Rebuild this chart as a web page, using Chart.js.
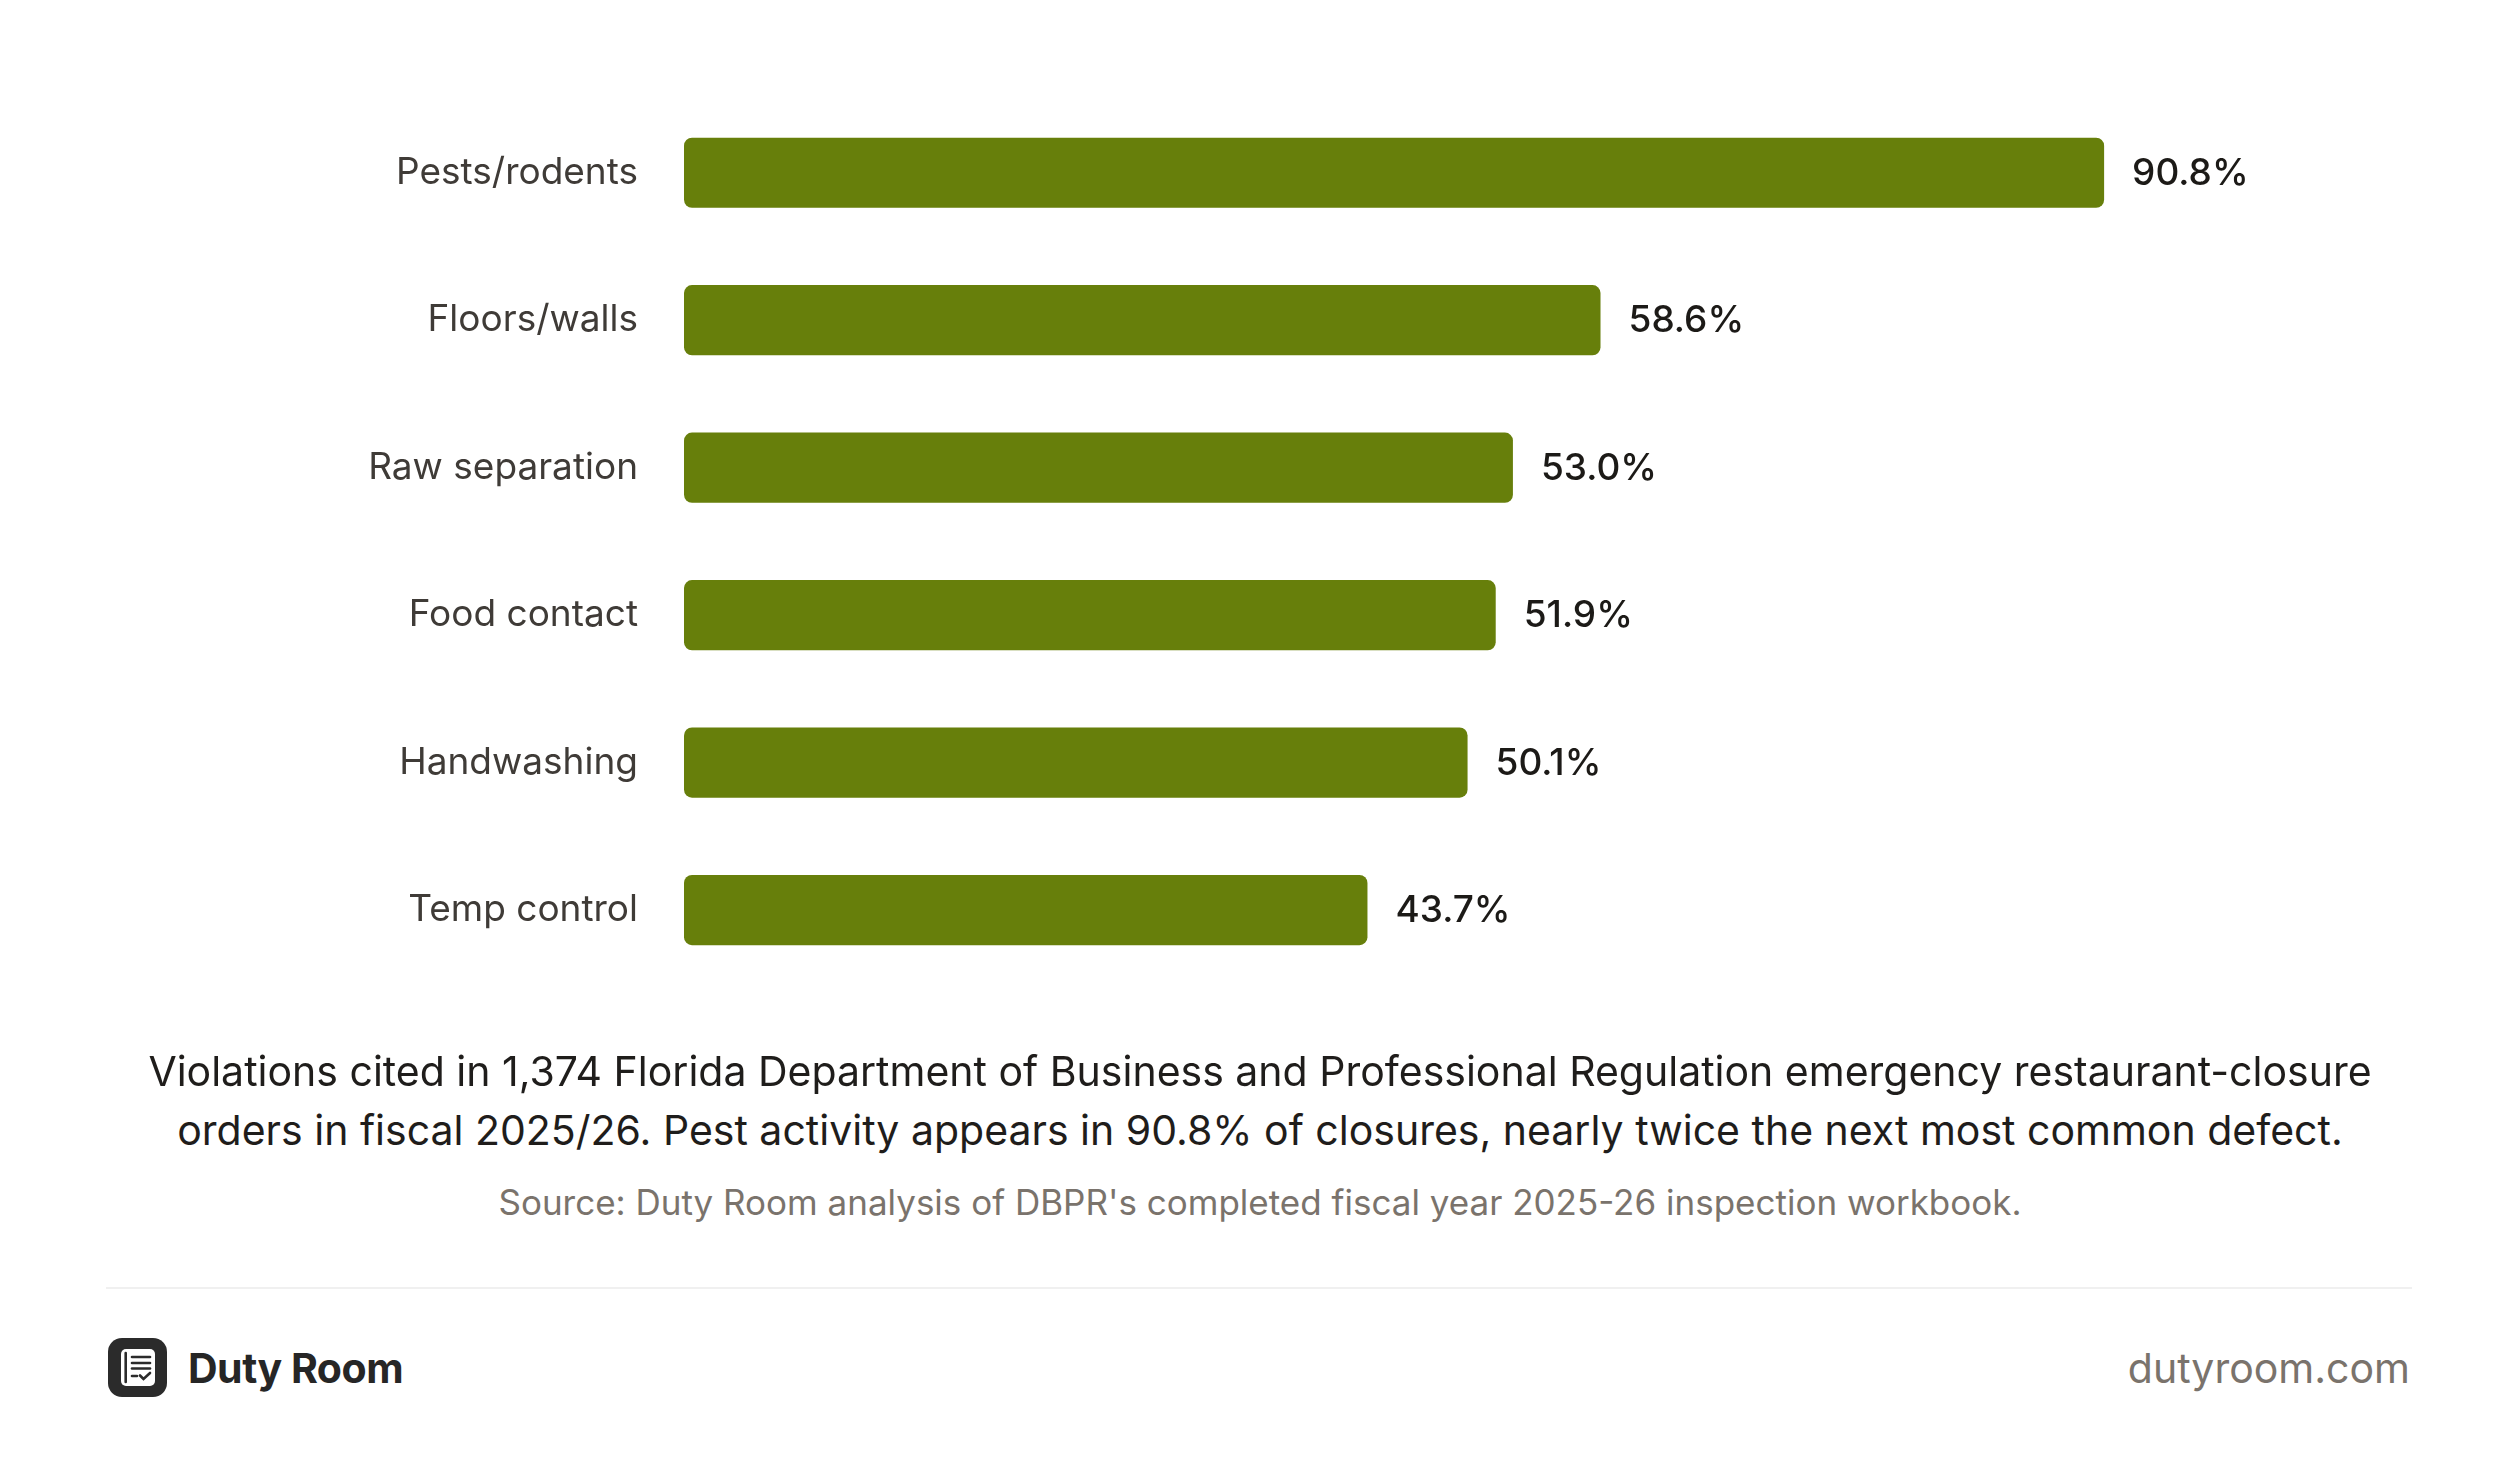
<!DOCTYPE html>
<html>
<head>
<meta charset="utf-8">
<script src="https://cdn.jsdelivr.net/npm/chart.js@4.4.1/dist/chart.umd.min.js"></script>
<style>
  html, body { margin: 0; padding: 0; background: #fff; }
  body { width: 2520px; height: 1458px; position: relative; overflow: hidden; font-family: Inter, "Noto Sans", sans-serif; }
  #wrap { position: absolute; left: 0; top: 0; width: 2520px; height: 1052px; }
  .line { position: absolute; left: 0; width: 2520px; text-align: center; line-height: 1; white-space: nowrap; }
  .cap { font-size: 41px; color: #1f1d1b; top: 0; }
  .src { font-size: 35px; color: #7a736c; }
  .rule { position: absolute; left: 106px; width: 2306px; top: 1287px; height: 2px; background: #f0f0f0; }
  .brand { position: absolute; left: 188px; font-size: 41px; font-weight: 700; color: #262626; line-height: 1; letter-spacing: -0.5px; }
  .site { position: absolute; right: 110px; font-size: 41px; color: #7a736c; line-height: 1; }
  .logo { position: absolute; left: 108px; top: 1338px; }
</style>
</head>
<body>
<div id="wrap"><canvas id="myChart" width="2520" height="1052"></canvas></div>

<div class="line cap" style="top:1051px">Violations cited in 1,374 Florida Department of Business and Professional Regulation emergency restaurant-closure</div>
<div class="line cap" style="top:1110px">orders in fiscal 2025/26. Pest activity appears in 90.8% of closures, nearly twice the next most common defect.</div>
<div class="line src" style="top:1185px">Source: Duty Room analysis of DBPR's completed fiscal year 2025-26 inspection workbook.</div>
<div class="rule"></div>

<svg class="logo" width="59" height="59" viewBox="0 0 59 59">
  <rect x="0" y="0" width="59" height="59" rx="14" fill="#2b2b2b"/>
  <rect x="13" y="11" width="34" height="37" rx="5" fill="#fff"/>
  <g stroke="#2b2b2b" stroke-width="2.6" stroke-linecap="round" fill="none">
    <line x1="17.7" y1="15" x2="17.7" y2="44"/>
    <line x1="24" y1="19" x2="42" y2="19"/>
    <line x1="24" y1="25" x2="42" y2="25"/>
    <line x1="24" y1="30.5" x2="42" y2="30.5"/>
    <line x1="24" y1="38" x2="29" y2="38"/>
    <polyline points="32,37.5 35.5,41 42,35"/>
  </g>
</svg>
<div class="brand" style="top:1348px">Duty Room</div>
<div class="site" style="top:1348px">dutyroom.com</div>

<script>
const categories = ['Pests/rodents', 'Floors/walls', 'Raw separation', 'Food contact', 'Handwashing', 'Temp control'];
const shares = [90.8, 58.6, 53.0, 51.9, 50.1, 43.7];
const axisMax = 100;

// draws "90.8%" etc just past the end of each bar
const valueLabels = {
  id: 'valueLabels',
  afterDatasetsDraw(chart) {
    const ctx = chart.ctx;
    const meta = chart.getDatasetMeta(0);
    ctx.save();
    ctx.font = '500 37px Inter, "Noto Sans", sans-serif';
    ctx.fillStyle = '#1c1a17';
    ctx.textAlign = 'left';
    ctx.textBaseline = 'middle';
    meta.data.forEach((bar, i) => {
      ctx.fillText(shares[i].toFixed(1) + '%', bar.x + 28, bar.y + 1);
    });
    ctx.restore();
  }
};

Chart.defaults.font.family = 'Inter, "Noto Sans", sans-serif';

const ctx = document.getElementById('myChart').getContext('2d');
const myChart = new Chart(ctx, {
  type: 'bar',
  data: {
    labels: categories,
    datasets: [{
      data: shares,
      backgroundColor: '#677f0b',
      borderRadius: 8,
      borderSkipped: false,
      barPercentage: 1,
      categoryPercentage: 0.476
    }]
  },
  options: {
    indexAxis: 'y',
    responsive: false,
    animation: false,
    devicePixelRatio: 1,
    layout: { padding: { top: 99, right: 272, bottom: 19, left: 0 } },
    plugins: { legend: { display: false }, tooltip: { enabled: false } },
    scales: {
      x: { min: 0, max: axisMax, display: false },
      y: {
        grid: { display: false, drawTicks: false },
        border: { display: false },
        ticks: { padding: 46, color: '#3f3b37', font: { size: 37 } },
        afterFit(scale) { scale.width = 684; }
      }
    }
  },
  plugins: [valueLabels]
});
</script>
</body>
</html>
